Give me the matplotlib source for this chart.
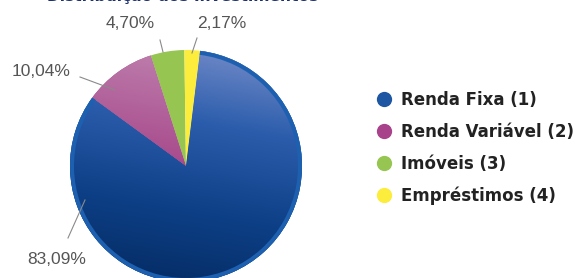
import numpy as np
import matplotlib.pyplot as plt
from matplotlib.patches import Wedge
from matplotlib.colors import LinearSegmentedColormap
from matplotlib.lines import Line2D

# Data
categories = ['Renda Fixa (1)', 'Renda Variável (2)', 'Imóveis (3)', 'Empréstimos (4)']
values = [83.09, 10.04, 4.70, 2.17]
pct_labels = ['83,09%', '10,04%', '4,70%', '2,17%']
colors = ['#1d56a3', '#a8428a', '#96c552', '#fcec3c']
title = 'Distribuição dos Investimentos'

H = 278
fig = plt.figure(figsize=(5.76, 2.78), dpi=100)
ax = fig.add_axes([0, 0, 1, 1])

cx, cy, r = 186, H - 166, 116
wedges, _ = ax.pie(values, colors=colors, startangle=83, counterclock=False,
                   center=(cx, cy), radius=r, frame=True,
                   wedgeprops=dict(linewidth=0))

# gradient shading on the big slices
grad_specs = [
    ['#7a90cc', '#2a5cab', '#0d3f86', '#042a60'],
    ['#c28ab4', '#a84a8c', '#98306f'],
]
for w, cols in zip(wedges[:2], grad_specs):
    cmap = LinearSegmentedColormap.from_list('g', cols)
    yy = np.linspace(1, 0, 256).reshape(-1, 1)
    xx = np.linspace(0, 1, 64).reshape(1, -1)
    z = (1 - yy) * 0.85 + (1 - xx) * 0.15
    im = ax.imshow(z, cmap=cmap, extent=(cx - r, cx + r, cy - r, cy + r),
                   origin='upper', aspect='auto', zorder=w.get_zorder() + 0.1)
    im.set_clip_path(w)

# outer rim of the blue slice
rim = Wedge((cx, cy), r, wedges[0].theta1, wedges[0].theta2,
            width=4, facecolor='#1e60b0', edgecolor='none', zorder=3)
ax.add_patch(rim)

# percentage labels with leader lines (pixel positions, y from top)
label_pos = [(57, 259), (41, 72), (130, 24), (222, 24)]
leaders = [((68, 238), (85, 200)), ((80, 77), (115, 90)),
           ((160, 40), (163, 52)), ((197, 38), (192, 53))]
for lab, (lx, ly), ((x0, y0), (x1, y1)) in zip(pct_labels, label_pos, leaders):
    ax.plot([x0, x1], [H - y0, H - y1], color='#8a8a8a', lw=0.8, zorder=4)
    ax.text(lx, H - ly, lab, ha='center', va='center', fontsize=12.5,
            color='#555555', family='Liberation Sans')

# title is clipped by the top edge, as in the original
ax.text(183, H + 4, title, ha='center', va='center', fontsize=11.2,
        fontweight='bold', color='#1c2f6e', family='DejaVu Sans')

handles = [Line2D([], [], marker='o', linestyle='none', markersize=11,
                  markerfacecolor=c, markeredgecolor='none') for c in colors]
leg = ax.legend(handles, categories, loc='upper left', bbox_to_anchor=(359 / 576, 1 - 76 / H),
                frameon=False, handletextpad=0.4, handlelength=1.2, labelspacing=0.83,
                prop=dict(family='DejaVu Sans', weight='bold', size=12))
for t in leg.get_texts():
    t.set_color('#222222')

ax.set_xlim(0, 576)
ax.set_ylim(0, H)
ax.set_aspect('equal')
ax.axis('off')

fig.savefig('out.png', dpi=100)
